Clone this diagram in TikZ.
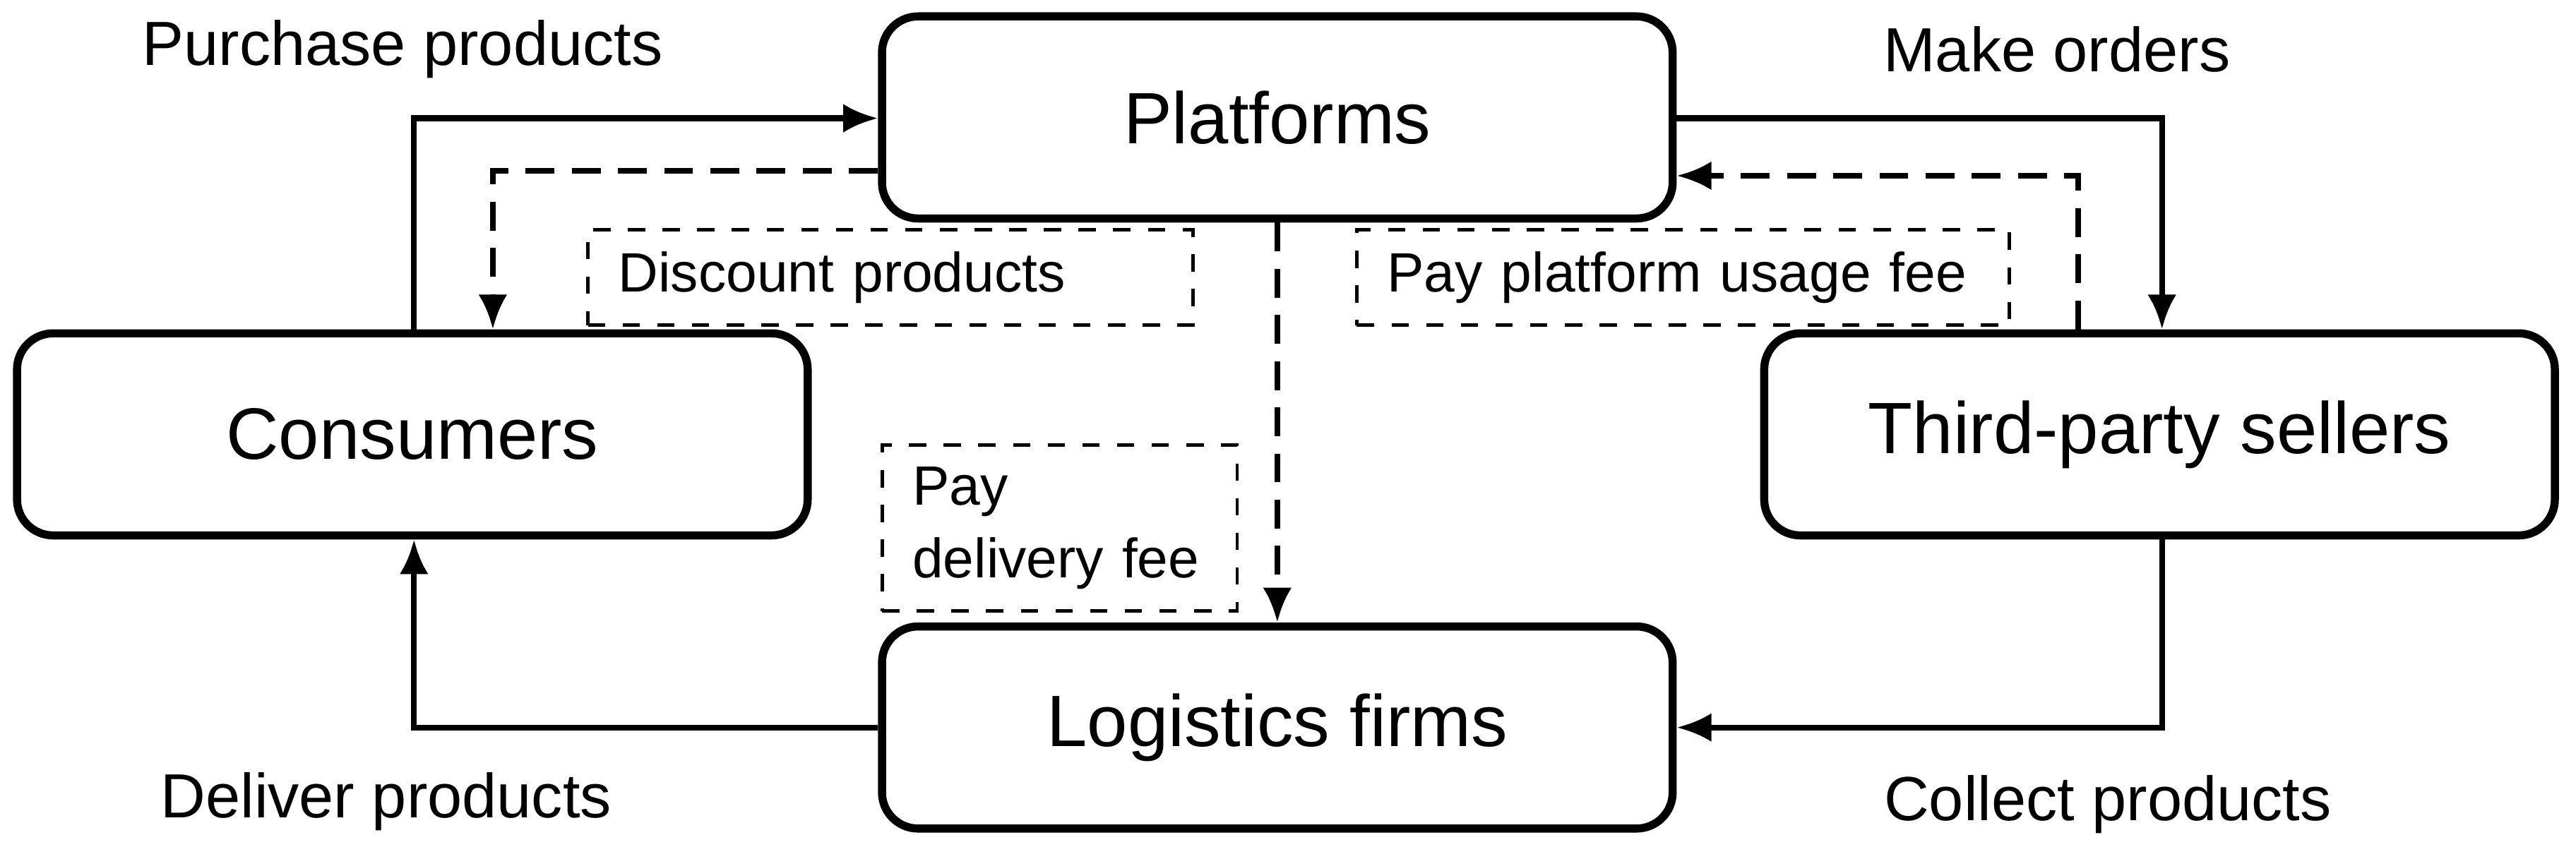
\documentclass[tikz,border=0pt]{standalone}
\usepackage{fontspec}
\setmainfont{Liberation Sans}
\usetikzlibrary{arrows.meta}
\begin{document}
\begin{tikzpicture}[x=0.01cm,y=-0.01cm,
  box/.style={draw,line width=1.4pt,rounded corners=0.22cm,minimum width=4.81cm,minimum height=1.23cm,font=\fontsize{12.6}{14}\selectfont,inner sep=0},
  lab/.style={font=\fontsize{10.8}{12}\selectfont,inner sep=0},
  dbox/.style={draw,dashed,line width=0.6pt,font=\fontsize{9.6}{12.5}\selectfont,inner xsep=0.185cm,inner ysep=0,align=left},
  arr/.style={line width=1pt,-{Latex[length=6pt,width=5pt]}},
  darr/.style={arr,dashed,dash pattern=on 5pt off 3pt}]
\useasboundingbox (0,0) rectangle (1568,523);
\node[box] (P) at (777.5,71.5) {Platforms};
\node[box] (C) at (251,264.5) {Consumers};
\node[box] (S) at (1314.5,264.5) {Third-party sellers};
\node[box] (L) at (777.5,443) {Logistics firms};
\coordinate (c1) at (252,72);
\coordinate (c2) at (300,104);
\coordinate (s1) at (1316,72);
\coordinate (s2) at (1265,107);
\coordinate (b1) at (1316,443);
\coordinate (d1) at (252,443);
\draw[arr] (C.north -| c1) |- (P.west |- c1);
\draw[darr] (P.west |- c2) -| (C.north -| c2);
\draw[arr] (P.east |- s1) -| (S.north -| s1);
\draw[darr] (S.north -| s2) |- (P.east |- s2);
\draw[darr] (P.south) -- (L.north);
\draw[arr] (S.south -| b1) |- (L.east);
\draw[arr] (L.west) -| (C.south -| d1);
\node[lab] (t1) at (245,30) {Purchase products};
\node[lab] (t2) at (1252,30) {Make orders};
\node[lab] (t3) at (235,488) {Deliver products};
\node[lab] (t4) at (1283,490) {Collect products};
\node[dbox,text width=3.31cm,minimum height=0.58cm] (d1b) at (542,169) {Discount products};
\node[dbox,text width=3.60cm,minimum height=0.58cm] (d2b) at (1024.5,169) {Pay platform usage fee};
\node[dbox,text width=1.79cm,minimum height=1.01cm] (d3b) at (645,321.5) {Pay\\delivery fee};
\end{tikzpicture}
\end{document}
